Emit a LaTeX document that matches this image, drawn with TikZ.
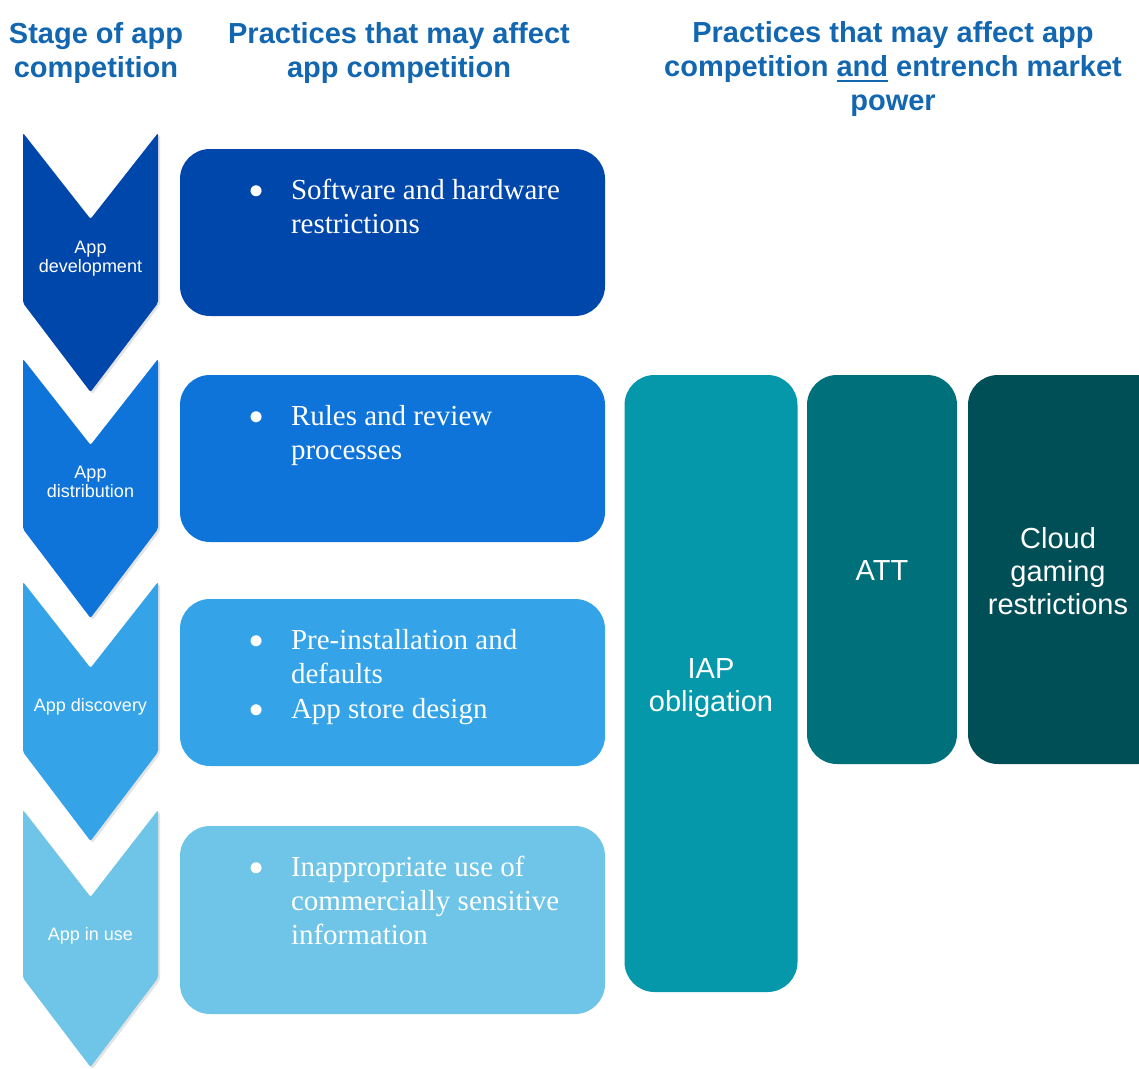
\documentclass[tikz,border=0pt]{standalone}
\usepackage{fontspec}
\setmainfont{Liberation Serif}
\setsansfont{Liberation Sans}
\usetikzlibrary{shadows}
\definecolor{headc}{RGB}{18,103,176}
\definecolor{ca}{RGB}{0,71,171}
\definecolor{cb}{RGB}{14,116,217}
\definecolor{cc}{RGB}{52,163,232}
\definecolor{cd}{RGB}{110,197,231}
\definecolor{iapc}{RGB}{5,151,170}
\definecolor{attc}{RGB}{0,112,122}
\definecolor{cloudc}{RGB}{0,78,86}
\newcommand\ctrlines[1]{\vtop{\halign{\hfil##\hfil\cr#1\crcr}}}
\newcommand\leftlines[1]{\vtop{\halign{##\hfil\cr#1\crcr}}}
\newcommand\myul[1]{\vtop{\hbox{#1}\kern3.5pt\hrule height 2.5pt}}
\begin{document}
\begin{tikzpicture}[x=1pt,y=-1pt,
  txt/.style={inner sep=0pt, outer sep=0pt},
  head/.style={txt, anchor=base, text=headc, font=\sffamily\bfseries\fontsize{29}{34}\selectfont},
  chev/.style={rounded corners=2pt, drop shadow={opacity=0.22, shadow xshift=2pt, shadow yshift=-2pt}},
  chevlabel/.style={txt, anchor=base, text=white, font=\sffamily\fontsize{18}{19.5}\selectfont},
  box/.style={rectangle, rounded corners=30pt, draw=none, inner sep=0pt, outer sep=0pt},
  boxtext/.style={txt, anchor=base west, text=white, font=\rmfamily\fontsize{29}{34}\selectfont},
  bullet/.style={txt, anchor=base, text=white, font=\rmfamily\fontsize{46}{50}\selectfont},
  bigtext/.style={txt, anchor=base, text=white, font=\sffamily\fontsize{29}{33}\selectfont}]
\clip (0,0) rectangle (1139,1068);
\fill[white] (0,0) rectangle (1139,1068);

% headings
\node[head] (h1) at (96,43) {\ctrlines{Stage of app\cr competition}};
\node[head] (h2) at (399,43) {\ctrlines{Practices that may affect\cr app competition}};
\node[head] (h3) at (893,42) {\ctrlines{Practices that may affect app\cr competition \myul{and} entrench market\cr power}};

% chevrons
\path[chev, fill=ca] (23,133) -- (90.5,219) -- (158,133) -- (158,303) -- (90.5,392) -- (23,303) -- cycle;
\path[chev, fill=cb] (23,359) -- (90.5,445) -- (158,359) -- (158,529) -- (90.5,618) -- (23,529) -- cycle;
\path[chev, fill=cc] (23,582) -- (90.5,668) -- (158,582) -- (158,752) -- (90.5,841) -- (23,752) -- cycle;
\path[chev, fill=cd] (23,810) -- (90.5,897) -- (158,810) -- (158,978) -- (90.5,1067) -- (23,978) -- cycle;
\node[chevlabel] (s1) at (90.5,253) {\ctrlines{App\cr development}};
\node[chevlabel] (s2) at (90.5,478) {\ctrlines{App\cr distribution}};
\node[chevlabel] (s3) at (90.5,711) {App discovery};
\node[chevlabel] (s4) at (90.5,940) {App in use};

% practice boxes
\node[box, fill=ca, minimum width=425pt, minimum height=167pt] (b1) at (392.5,232.5) {};
\node[box, fill=cb, minimum width=425pt, minimum height=167pt] (b2) at (392.5,458.5) {};
\node[box, fill=cc, minimum width=425pt, minimum height=167pt] (b3) at (392.5,682.5) {};
\node[box, fill=cd, minimum width=425pt, minimum height=188pt] (b4) at (392.5,920) {};

\node[bullet] (u1) at (257,206) {•};
\node[boxtext] (t1) at (291,199) {\leftlines{Software and hardware\cr restrictions}};
\node[bullet] (u2) at (257,432) {•};
\node[boxtext] (t2) at (291,425) {\leftlines{Rules and review\cr processes}};
\node[bullet] (u3) at (257,656) {•};
\node[boxtext] (t3) at (291,649) {\leftlines{Pre-installation and\cr defaults}};
\node[bullet] (u3b) at (257,725) {•};
\node[boxtext] (t3b) at (291,718) {App store design};
\node[bullet] (u4) at (257,883) {•};
\node[boxtext] (t4) at (291,876) {\leftlines{Inappropriate use of\cr commercially sensitive\cr information}};

% market power boxes
\node[box, fill=iapc, minimum width=173pt, minimum height=617pt] (iap) at (711,683.5) {};
\node[box, fill=attc, minimum width=150pt, minimum height=389pt] (att) at (882,569.5) {};
\node[box, fill=cloudc, minimum width=200pt, minimum height=389pt] (cloud) at (1068,569.5) {};
\node[bigtext] (iapt) at (711,678) {\ctrlines{IAP\cr obligation}};
\node[bigtext] (attt) at (882,580) {ATT};
\node[bigtext] (cloudt) at (1058,548) {\ctrlines{Cloud\cr gaming\cr restrictions}};
\end{tikzpicture}
\end{document}
